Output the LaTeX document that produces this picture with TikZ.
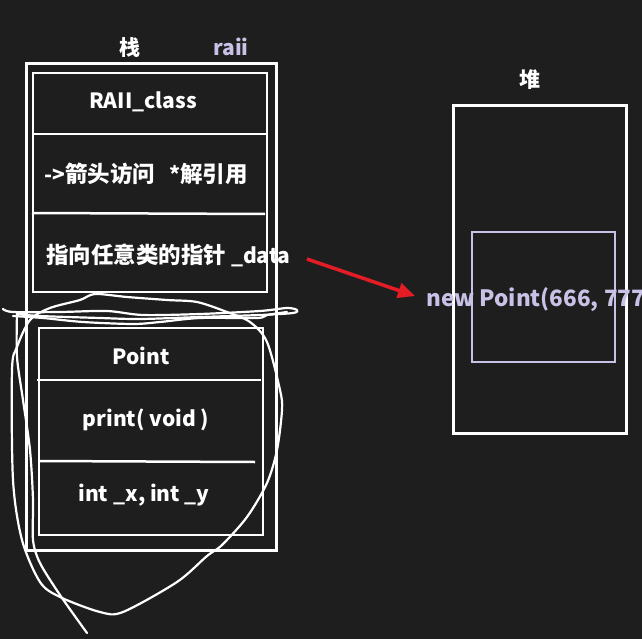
\documentclass[tikz,border=0pt]{standalone}
\usepackage{fontspec}
\setmainfont{Noto Sans CJK SC}
\usepackage{xcolor}
\usepackage{tikz}
\usetikzlibrary{arrows.meta,positioning,calc}

\definecolor{bgdark}{HTML}{1E1E1E}
\definecolor{lavender}{HTML}{C9C1E6}
\definecolor{ptrred}{HTML}{E31C25}

% wider CJK glyphs
\newcommand{\zh}[1]{{\fontsize{22.5}{24}\selectfont #1}}

\tikzset{
    box/.style={draw=white, line width=2.5pt},
    frame/.style={draw=white, line width=3pt},
    txt/.style={text=white, inner sep=0pt, font=\bfseries\fontsize{21}{24}\selectfont},
    scribble/.style={draw=white, line width=2.2pt, line cap=round, line join=round},
    ptr/.style={draw=ptrred, line width=3.5pt, -{Triangle[length=17pt,width=15pt]}}
}

\begin{document}
\begin{tikzpicture}[x=1pt, y=-1pt]
    % Background
    \fill [bgdark] (0,0) rectangle (642,639);
    \useasboundingbox (0,0) rectangle (642,639);
    \clip (0,0) rectangle (642,639);
    % Titles
    \node [txt] (stacktitle) at (130,48) {栈};
    \node [txt, text=lavender] (raiititle) at (231,47) {raii};
    \node [txt] (heaptitle) at (530,80) {堆};
    % Stack
    \draw [frame] (26,64) rectangle (276,550);
    % RAII_class
    \draw [box] (33,73) rectangle (267,292);
    \draw [box] (33,134) -- (267,134);
    \draw [box] (32,213) -- (265,214);
    \node [txt] (raiiname) at (143,102) {RAII\_class};
    \node [txt, anchor=west] (raiiops) at (44,174) {->\zh{箭头访问}\hspace{14pt}*\zh{解引用}};
    \node [txt, anchor=west] (raiidata) at (46,255) {\zh{指向任意类的指针} \_data};
    % Point
    \draw [box] (39,328) rectangle (263,535);
    \draw [box] (37,380) -- (261,380);
    \draw [box] (39,461) -- (255,462);
    \node [txt] (ptname) at (141,356) {Point};
    \node [txt] (ptfunc) at (146,420) {print( void )};
    \node [txt] (ptvars) at (144,495) {int \_x, int \_y};
    % Heap
    \draw [frame] (453,106) rectangle (626,433);
    \draw [box, draw=lavender] (472,232) rectangle (615,362);
    \node [txt, text=lavender, anchor=west, font=\bfseries\fontsize{22.5}{24}\selectfont] (heapobj) at (426,300) {new Point(666, 777};
    % Pointer
    \draw [ptr] ([xshift=16pt,yshift=-4pt]raiidata.east) -- ([xshift=-11pt,yshift=4pt]heapobj.west);
    % Scribbles
    \draw [scribble] plot [smooth] coordinates {(3,309) (13,312) (60,312) (107,311) (143,315) (200,314) (260,311) (287,308) (297,310) (293,313) (260,315) (200,317) (140,319) (100,318) (40,316) (17,314)};
    \draw [scribble] plot [smooth] coordinates {(13,316) (43,318) (83,322) (133,324) (160,322) (200,318) (257,318) (267,315) (287,312)};
    \draw [scribble] plot [smooth cycle] coordinates {(95,294) (127,297) (167,300) (197,302) (227,312) (250,322) (267,342) (280,390) (282,410) (277,450) (267,483) (247,517) (222,545) (207,556) (177,582) (123,612) (100,612) (60,597) (40,582) (22,540) (13,480) (12,370) (17,347) (30,320) (50,308) (80,300)};
    \draw [scribble] plot [smooth] coordinates {(17,313) (17,357) (23,400) (30,450) (33,500) (33,540) (40,563) (60,595) (87,633)};
\end{tikzpicture}
\end{document}
